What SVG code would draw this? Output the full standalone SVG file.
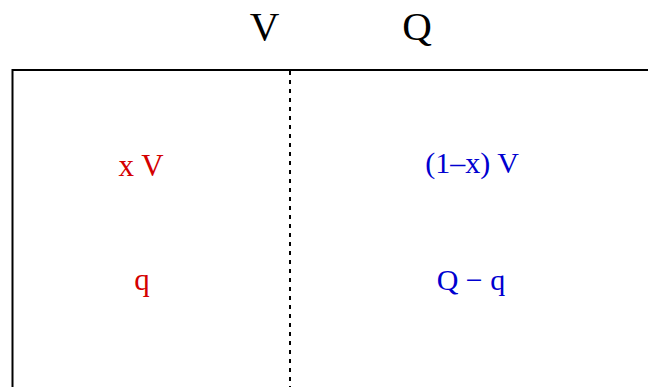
<svg xmlns="http://www.w3.org/2000/svg" width="648" height="387" viewBox="0 0 648 387">
<style>
text{font-family:"Liberation Serif","Times New Roman",serif;text-anchor:middle}
.h{font-size:41px;fill:#000}
.r{font-size:31px;fill:#d40000}
.b{font-size:30px;fill:#0000d0}
</style>
<rect width="648" height="387" fill="#fff"/>
<g id="box"><path d="M12.5,400 V70 H660" fill="none" stroke="#000" stroke-width="2"/></g>
<g id="connectors"><line x1="290" y1="71" x2="290" y2="387" stroke="#000" stroke-width="2" stroke-dasharray="4,5"/></g>
<g id="labelV"><text class="h" x="264.5" y="40">V</text></g>
<g id="labelQ"><text class="h" x="417" y="40">Q</text></g>
<g id="xV"><text class="r" x="141" y="176">x V</text></g>
<g id="q"><text class="r" x="142" y="290">q</text></g>
<g id="oneMinusX"><text class="b" x="472" y="173">(1–x) V</text></g>
<g id="Qminusq"><text class="b" x="471" y="290">Q − q</text></g>
</svg>
